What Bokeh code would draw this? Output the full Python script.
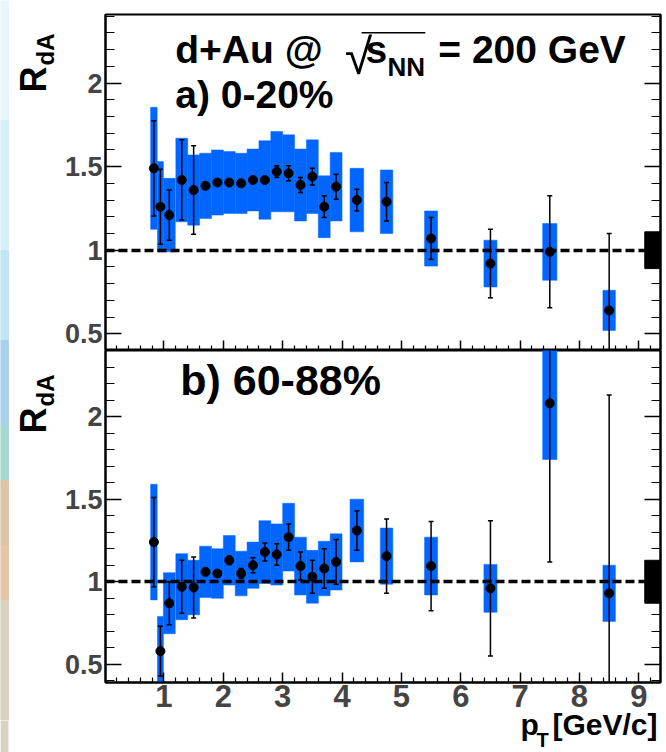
import math
from bokeh.plotting import figure
from bokeh.layouts import column, row
from bokeh.models import (Range1d, LinearAxis, FixedTicker, NumeralTickFormatter,
                          BoxAnnotation, ColumnDataSource)
from bokeh.core.properties import value
from bokeh.embed import file_html
from bokeh.resources import INLINE

# ---------------- data ----------------
pt = [0.83, 0.94, 1.09, 1.3, 1.5, 1.7, 1.9, 2.1, 2.3, 2.5, 2.7, 2.9, 3.1, 3.3,
      3.5, 3.7, 3.9, 4.25, 4.75, 5.5, 6.5, 7.5, 8.5]
pt_binhalf = [0.055, 0.05, 0.1, 0.1, 0.1, 0.1, 0.1, 0.1, 0.1, 0.1, 0.1, 0.1, 0.1,
              0.1, 0.1, 0.1, 0.1, 0.115, 0.105, 0.11, 0.11, 0.12, 0.105]

# a) 0-20%
rda_a = [1.49, 1.26, 1.21, 1.42, 1.36, 1.385, 1.405, 1.405, 1.40, 1.42, 1.42, 1.47,
         1.46, 1.39, 1.44, 1.26, 1.38, 1.30, 1.29, 1.07, 0.92, 0.99, 0.64]
stat_a = [0.285, 0.225, 0.15, 0.24, 0.265, 0.015, 0.015, 0.015, 0.015, 0.015, 0.02,
          0.035, 0.045, 0.045, 0.05, 0.065, 0.075, 0.065, 0.115, 0.125, 0.205, 0.335, 0.46]
sys_a = [0.365, 0.27, 0.22, 0.25, 0.21, 0.195, 0.195, 0.185, 0.18, 0.185, 0.235, 0.24,
         0.23, 0.215, 0.22, 0.185, 0.205, 0.19, 0.19, 0.165, 0.14, 0.17, 0.12]
norm_a = 0.11

# b) 60-88%
rda_b = [1.24, 0.58, 0.87, 0.97, 0.965, 1.06, 1.05, 1.13, 1.05, 1.10, 1.18, 1.165,
         1.27, 1.095, 1.03, 1.08, 1.12, 1.31, 1.155, 1.095, 0.96, 2.08, 0.93]
stat_b = [0.27, 0.15, 0.13, 0.16, 0.185, 0.015, 0.015, 0.025, 0.03, 0.045, 0.055,
          0.065, 0.08, 0.085, 0.10, 0.12, 0.135, 0.12, 0.225, 0.27, 0.41, 0.96, 1.2]
sys_b = [0.35, 0.21, 0.185, 0.20, 0.165, 0.155, 0.15, 0.15, 0.135, 0.14, 0.19, 0.185,
         0.205, 0.175, 0.16, 0.165, 0.17, 0.19, 0.17, 0.175, 0.145, 0.34, 0.17]
norm_b = 0.13

x_major = [1, 2, 3, 4, 5, 6, 7, 8, 9]
y_major = [0.5, 1.0, 1.5, 2.0]

# slide-background strip seen at the left edge of the picture
strip_colors = ["#e8f6fb", "#d6eff8", "#c2e5f3", "#a9d2ea", "#a9d7cf",
                "#dcc4a4", "#e2c7a7", "#d7d3c0"]
strip_edges = [0, 120, 250, 340, 425, 480, 545, 600, 752]

# ---------------- layout constants (pixels) ----------------
W, H = 666, 752
LH_W = 61                      # left helper (R_dA labels)
MAIN_W = W - LH_W
LEFT = 103                     # frame left edge in the window
RIGHT = 6
FRAME_W = W - LEFT - RIGHT
X0, X1 = 0.015, 9.365
YA0, YA1 = 0.40, 2.41
YB0, YB1 = 0.39, 2.40
TOP_H, TOP_BT = 350, 14
BOT_BB = 38
BOT_H = 332 + BOT_BB
FA_H = TOP_H - TOP_BT
FB_H = BOT_H - BOT_BB
BH_OVER = 14                   # bottom helper overlaps the tick-label band
BH_H = H - TOP_H - BOT_H + BH_OVER
LH_H = TOP_H + BOT_H
K_BASE = 0.41                  # baseline correction of the svg text (fraction of size)
STRIP_W = 8

FONT = "Liberation Sans"
BLUE = "#0066ff"


def xd(px):
    return X0 + (px - LEFT) * (X1 - X0) / FRAME_W


def yda(py):
    return YA1 - (py - TOP_BT) * (YA1 - YA0) / FA_H


def ydb(py):
    return YB1 - (py - TOP_H) * (YB1 - YB0) / FB_H


def lh_x(px):
    return px


def lh_y(py):
    return LH_H - py


def bh_x(px):
    return px


def bh_y(py):
    return H - py


x_minor = [round(0.2 * k, 2) for k in range(1, 47) if abs(0.2 * k - round(0.2 * k)) > 1e-6]
y_minor = [round(0.1 * k, 2) for k in range(3, 25)]


def txt(p, fx, fy, px, py, text, size, bold=True, font=FONT, rotated=False):
    """Place text so that its baseline starts at window pixel (px, py)."""
    if rotated:
        x, y, ang = fx(px - K_BASE * size), fy(py), math.pi / 2
    else:
        x, y, ang = fx(px), fy(py - K_BASE * size), 0.0
    p.text(x=[x], y=[y], text=[text], text_font=value(font),
           text_font_size=f"{size}px",
           text_font_style="bold" if bold else "normal",
           text_align="left", text_baseline="alphabetic",
           text_color="black", angle=ang)


def make_panel(height, yr, bt, bb, show_xlabels, rda, stat, sysu, norm):
    p = figure(width=MAIN_W, height=height, x_range=Range1d(X0, X1), y_range=Range1d(*yr),
               output_backend="svg", toolbar_location=None,
               min_border_left=LEFT - LH_W, min_border_right=RIGHT,
               min_border_top=bt, min_border_bottom=bb,
               background_fill_color="white", border_fill_color="white",
               outline_line_color="black", outline_line_width=2)
    p.grid.visible = False

    xa = p.xaxis[0]
    xa.ticker = FixedTicker(ticks=x_major, minor_ticks=x_minor)
    xa.major_tick_in, xa.major_tick_out = 10, 0
    xa.minor_tick_in, xa.minor_tick_out = 5, 0
    xa.major_tick_line_width = 1.5
    xa.minor_tick_line_width = 1.2
    xa.axis_line_width = 2
    if show_xlabels:
        xa.major_label_text_font = FONT
        xa.major_label_text_font_style = "bold"
        xa.major_label_text_font_size = "31px"
        xa.major_label_standoff = 2
    else:
        xa.major_label_text_font_size = "0px"
        xa.major_label_text_color = None
        xa.major_label_standoff = 0

    ya = p.yaxis[0]
    ya.ticker = FixedTicker(ticks=y_major, minor_ticks=y_minor)
    ya.formatter = NumeralTickFormatter(format="0.[0]")
    ya.major_tick_in, ya.major_tick_out = 16, 0
    ya.minor_tick_in, ya.minor_tick_out = 9, 0
    ya.major_tick_line_width = 1.5
    ya.minor_tick_line_width = 1.2
    ya.axis_line_width = 2
    ya.major_label_text_font = FONT
    ya.major_label_text_font_style = "bold"
    ya.major_label_text_font_size = "27px"
    ya.major_label_standoff = 3

    ra = LinearAxis(ticker=FixedTicker(ticks=y_major, minor_ticks=y_minor),
                    major_tick_in=16, major_tick_out=0, minor_tick_in=9, minor_tick_out=0,
                    major_tick_line_width=1.5, minor_tick_line_width=1.2,
                    axis_line_width=2, major_label_text_font_size="0px",
                    major_label_text_color=None, major_label_standoff=0)
    p.add_layout(ra, "right")

    src = ColumnDataSource(dict(
        x=pt, y=rda,
        left=[a - h for a, h in zip(pt, pt_binhalf)],
        right=[a + h for a, h in zip(pt, pt_binhalf)],
        sys_lo=[v - s for v, s in zip(rda, sysu)],
        sys_hi=[v + s for v, s in zip(rda, sysu)],
        st_lo=[v - s for v, s in zip(rda, stat)],
        st_hi=[v + s for v, s in zip(rda, stat)],
    ))
    p.quad(left="left", right="right", bottom="sys_lo", top="sys_hi", source=src,
           fill_color=BLUE, line_color=BLUE, line_width=0.5)
    p.hspan(y=[1.0], line_color="black", line_width=3.5, line_dash="9 4")
    p.segment(x0="x", x1="x", y0="st_lo", y1="st_hi", source=src,
              line_color="black", line_width=1.5)
    p.scatter(x="x", y="st_lo", source=src, marker="dash", size=5,
              line_color="black", line_width=1.5)
    p.scatter(x="x", y="st_hi", source=src, marker="dash", size=5,
              line_color="black", line_width=1.5)
    p.scatter(x="x", y="y", source=src, marker="circle", size=9,
              fill_color="black", line_color="black")
    # global normalisation uncertainty box at y = 1
    p.quad(left=[9.1], right=[9.6], bottom=[1 - norm], top=[1 + norm],
           fill_color="black", line_color="black")
    return p


def helper(w, h, **kw):
    f = figure(width=w, height=h, x_range=Range1d(0, w), y_range=Range1d(0, h),
               x_axis_type=None, y_axis_type=None, output_backend="svg",
               toolbar_location=None, min_border=0, outline_line_color=None,
               background_fill_color="white", border_fill_color="white", **kw)
    return f


pa = make_panel(TOP_H, (YA0, YA1), TOP_BT, 0, False, rda_a, stat_a, sys_a, norm_a)
pb = make_panel(BOT_H, (YB0, YB1), 0, BOT_BB, True, rda_b, stat_b, sys_b, norm_b)

# top panel texts
txt(pa, xd, yda, 173, 65, "d+Au @", 39)
txt(pa, xd, yda, 343, 77, "\u221a", 50, bold=False)
pa.add_layout(BoxAnnotation(left=xd(360), right=xd(424), top=yda(31.5), bottom=yda(33),
                            fill_color="black", fill_alpha=1, line_color=None))
txt(pa, xd, yda, 364, 65, "s", 39)
txt(pa, xd, yda, 386, 77, "NN", 26)
txt(pa, xd, yda, 437, 65, "= 200 GeV", 39)
txt(pa, xd, yda, 173, 110, "a) 0-20%", 39)

# bottom panel text
txt(pb, xd, ydb, 178, 397, "b) 60-88%", 43)

# left helper: background strip + y-axis titles R_dA
lh = helper(LH_W, LH_H)
lh.quad(left=[0] * len(strip_colors), right=[STRIP_W] * len(strip_colors),
        top=[lh_y(e) for e in strip_edges[:-1]],
        bottom=[lh_y(min(e, LH_H)) for e in strip_edges[1:]],
        fill_color=strip_colors, line_color=strip_colors, line_width=1)
for base in (92, 433):
    txt(lh, lh_x, lh_y, 48, base, "R", 36, rotated=True)
    txt(lh, lh_x, lh_y, 55, base - 27, "dA", 24, rotated=True)

# bottom helper: background strip + x-axis title p_T [GeV/c]
bh = helper(W, BH_H, margin=(-BH_OVER, 0, 0, 0))
bh.background_fill_alpha = 0
bh.border_fill_alpha = 0
bh.quad(left=[0], right=[STRIP_W], top=[bh_y(LH_H)], bottom=[bh_y(H)],
        fill_color=strip_colors[-1], line_color=None)
txt(bh, bh_x, bh_y, 520, 736, "p", 30)
txt(bh, bh_x, bh_y, 536, 748, "T", 20)
txt(bh, bh_x, bh_y, 552, 736, "[GeV/c]", 30)

layout = column(row(lh, column(pa, pb, spacing=0), spacing=0), bh, spacing=0)

with open("out.html", "w") as f:
    f.write(file_html(layout, INLINE))
